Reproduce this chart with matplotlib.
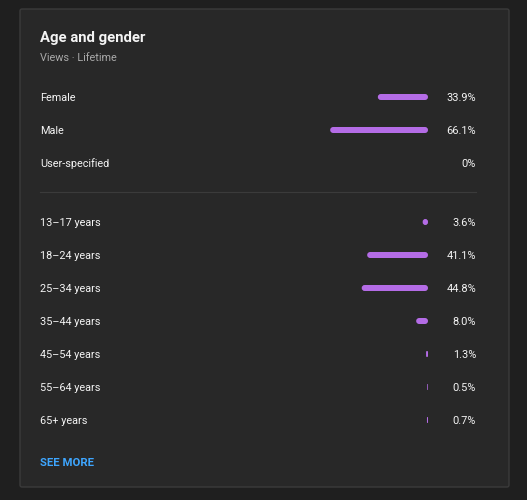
import matplotlib.pyplot as plt
from matplotlib.patches import FancyBboxPatch

plt.rcParams['font.family'] = ['Roboto', 'DejaVu Sans']

gender_labels = ['Female', 'Male', 'User-specified']
gender_values = [33.9, 66.1, 0.0]
gender_text = ['33.9%', '66.1%', '0%']

age_labels = ['13–17 years', '18–24 years', '25–34 years', '35–44 years',
              '45–54 years', '55–64 years', '65+ years']
age_values = [3.6, 41.1, 44.8, 8.0, 1.3, 0.5, 0.7]
age_text = ['3.6%', '41.1%', '44.8%', '8.0%', '1.3%', '0.5%', '0.7%']

title = 'Age and gender'
subtitle = 'Views · Lifetime'
link_text = 'SEE MORE'

# Colours
page_bg = '#1f1f1f'
card_bg = '#282828'
border = '#3b3b3b'
bar_color = '#b46ce6'
text_color = '#f4f4f4'
sub_color = '#aaaaaa'
link_color = '#3ea6ff'

W, H = 527, 500
fig = plt.figure(figsize=(W / 100, H / 100), dpi=100, facecolor=page_bg)

# pixel-coordinate axes for the card and text
ax = fig.add_axes([0, 0, 1, 1])
ax.set_xlim(0, W)
ax.set_ylim(H, 0)
ax.axis('off')

ax.add_patch(FancyBboxPatch((20, 9), 489, 478, boxstyle='round,pad=0,rounding_size=2',
                            facecolor=card_bg, edgecolor=border, linewidth=1))

ax.text(40, 38, title, color=text_color, fontsize=10.7, fontweight='bold', va='center', ha='left')
ax.text(40, 58, subtitle, color=sub_color, fontsize=7.8, va='center', ha='left')

gender_y = [97 + 33 * i for i in range(len(gender_labels))]
age_y = [222 + 33 * i for i in range(len(age_labels))]

ax.plot([40, 476], [192, 192], color=border, linewidth=0.8)

for labels, texts, ys in [(gender_labels, gender_text, gender_y), (age_labels, age_text, age_y)]:
    for lab, t, y in zip(labels, texts, ys):
        ax.text(40, y + 1, lab, color=text_color, fontsize=7.8, va='center', ha='left')
        ax.text(476, y + 1, t, color=text_color, fontsize=7.9, va='center', ha='right')

ax.text(40, 463, link_text, color=link_color, fontsize=8.2, fontweight='bold', va='center', ha='left')

# bar axes: x in percent, growing leftwards from the right edge at 428 px
px_per_pct = 1.48
bar_right = 428
bar_left = 300
bx = fig.add_axes([bar_left / W, 0, (bar_right - bar_left) / W, 1])
bx.set_xlim((bar_right - bar_left) / px_per_pct, 0)
bx.set_ylim(H, 0)
bx.axis('off')
bx.patch.set_alpha(0)

bar_h = 6
for vals, ys in [(gender_values, gender_y), (age_values, age_y)]:
    for v, y in zip(vals, ys):
        if v <= 0:
            continue
        r = min(3 / px_per_pct, v / 2)
        bx.add_patch(FancyBboxPatch((0, y - bar_h / 2), v, bar_h,
                                    boxstyle=f'round,pad=0,rounding_size={r}',
                                    mutation_aspect=px_per_pct,
                                    facecolor=bar_color, edgecolor='none'))

fig.savefig('out.png', dpi=100, facecolor=page_bg)
